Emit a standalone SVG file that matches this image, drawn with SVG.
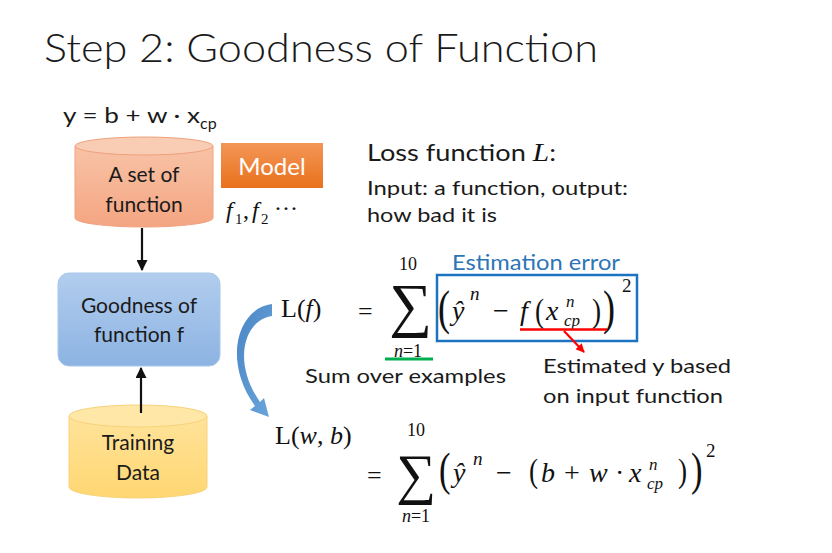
<svg xmlns="http://www.w3.org/2000/svg" width="832" height="553" viewBox="0 0 832 553">
<style>
.t{font-family:Lato,"Open Sans",sans-serif;fill:#1a1a1a}
.m{font-family:"Liberation Serif","DejaVu Serif",serif;fill:#111}
.i{font-style:italic}
.b{font-size:28px}
.s{font-size:19px}
.u{font-size:17px}
</style>
<defs>
<linearGradient id="gOr" x1="0" y1="0" x2="0" y2="1"><stop offset="0" stop-color="#F8C3A6"/><stop offset="1" stop-color="#F4A582"/></linearGradient>
<linearGradient id="gMo" x1="0" y1="0" x2="0" y2="1"><stop offset="0" stop-color="#F39657"/><stop offset="1" stop-color="#E9711C"/></linearGradient>
<linearGradient id="gBl" x1="0" y1="0" x2="0" y2="1"><stop offset="0" stop-color="#B2CDEE"/><stop offset="1" stop-color="#8CB3E2"/></linearGradient>
<linearGradient id="gYe" x1="0" y1="0" x2="0" y2="1"><stop offset="0" stop-color="#FFE39A"/><stop offset="1" stop-color="#FFD772"/></linearGradient>
<linearGradient id="gCv" x1="0" y1="0" x2="1" y2="1"><stop offset="0" stop-color="#4A86C4"/><stop offset="1" stop-color="#6AA5DD"/></linearGradient>
<marker id="ah" viewBox="0 0 10 10" refX="9" refY="5" markerWidth="5" markerHeight="5" orient="auto"><path d="M0,0 L10,5 L0,10 Z" fill="#111"/></marker>
<marker id="ar" viewBox="0 0 10 10" refX="9" refY="5" markerWidth="4" markerHeight="4" orient="auto"><path d="M0,0 L10,5 L0,10 Z" fill="#FF0000"/></marker>
</defs>
<rect width="832" height="553" fill="#fff"/>

<text class="t" x="44" y="62" font-size="40" font-weight="300" textLength="554" lengthAdjust="spacingAndGlyphs">Step 2: Goodness of Function</text>

<g id="model-eq">
<text class="t" x="63" y="123" font-size="22" textLength="137" lengthAdjust="spacingAndGlyphs">y = b + w · x</text>
<text class="t" x="200" y="129" font-size="16">cp</text>
</g>

<g id="set-of-function">
<path d="M75,146 L75,218 A69,9 0 0 0 213,218 L213,146 Z" fill="url(#gOr)" stroke="#F0A07C" stroke-width="1"/>
<ellipse cx="144" cy="146" rx="69" ry="9" fill="#F9CDB4" stroke="#F0A07C" stroke-width="1"/>
<text class="t" x="144" y="182" font-size="21" text-anchor="middle">A set of</text>
<text class="t" x="144" y="212" font-size="21" text-anchor="middle">function</text>
</g>

<g id="model">
<rect x="221" y="143" width="102" height="45" fill="url(#gMo)"/>
<text x="272" y="175" font-size="24" text-anchor="middle" font-family="Lato,sans-serif" fill="#fff">Model</text>
<text class="m i" x="226" y="218" font-size="24">f</text>
<text class="m" x="235" y="224" font-size="15">1</text>
<text class="m" x="243" y="218" font-size="24">,</text>
<text class="m i" x="252" y="218" font-size="24">f</text>
<text class="m" x="261" y="224" font-size="15">2</text>
<text class="m" x="274" y="216" font-size="24">···</text>
</g>

<g id="goodness">
<rect x="58" y="273" width="162" height="93" rx="11" fill="url(#gBl)" stroke="#A9C8EA" stroke-width="1"/>
<text class="t" x="139" y="313" font-size="21" text-anchor="middle">Goodness of</text>
<text class="t" x="139" y="342" font-size="21" text-anchor="middle">function f</text>
</g>

<g id="training-data">
<path d="M69,416 L69,487 A69,11 0 0 0 207,487 L207,416 Z" fill="url(#gYe)" stroke="#F8D27A" stroke-width="1"/>
<ellipse cx="138" cy="416" rx="69" ry="11" fill="#FFE7A8" stroke="#F8D27A" stroke-width="1"/>
<text class="t" x="138" y="450" font-size="21" text-anchor="middle">Training</text>
<text class="t" x="138" y="480" font-size="21" text-anchor="middle">Data</text>
</g>

<g id="loss-text">
<text class="t" x="367" y="161" font-size="24" textLength="189" lengthAdjust="spacingAndGlyphs">Loss function <tspan class="m i" font-size="26">L</tspan>:</text>
<text class="t" x="367" y="195" font-size="19" textLength="261" lengthAdjust="spacingAndGlyphs">Input: a function, output:</text>
<text class="t" x="367" y="222" font-size="19" textLength="130" lengthAdjust="spacingAndGlyphs">how bad it is</text>
</g>

<g id="formula1">
<text class="m" x="281" y="317" font-size="26">L(<tspan class="i">f</tspan>)</text>
<text class="m" x="358" y="320" font-size="26">=</text>
<text class="m" x="389" y="325" font-size="60">∑</text>
<text class="m" x="408" y="270" font-size="18" text-anchor="middle">10</text>
<text class="m" x="408" y="357" font-size="18" text-anchor="middle"><tspan class="i">n</tspan>=1</text>
<text class="t" x="452" y="270" font-size="21" style="fill:#2E75B6" textLength="168" lengthAdjust="spacingAndGlyphs">Estimation error</text>
<rect x="437" y="275" width="200" height="66" fill="none" stroke="#1C73C2" stroke-width="2.5"/>
<text class="m" transform="translate(438,324) scale(0.75,1)" font-size="48">(</text>
<text class="m i b" x="452" y="320">ŷ</text>
<text class="m i s" x="470" y="300">n</text>
<text class="m b" x="493" y="320">−</text>
<text class="m i b" x="520" y="320">f</text>
<text class="m" transform="translate(535,322) scale(0.8,1)" font-size="34">(</text>
<text class="m i b" x="546" y="320">x</text>
<text class="m i u" x="566" y="307">n</text>
<text class="m i u" x="564" y="326">cp</text>
<text class="m" transform="translate(592,322) scale(0.8,1)" font-size="34">)</text>
<text class="m" transform="translate(603,324) scale(0.75,1)" font-size="48">)</text>
<text class="m s" x="622" y="292">2</text>
</g>

<g id="formula2">
<text class="m" x="275" y="444" font-size="26">L(<tspan class="i">w</tspan>, <tspan class="i">b</tspan>)</text>
<text class="m" x="416" y="436" font-size="18" text-anchor="middle">10</text>
<text class="m" x="367" y="484" font-size="26">=</text>
<text class="m" x="396" y="493" font-size="56">∑</text>
<text class="m" x="416" y="522" font-size="18" text-anchor="middle"><tspan class="i">n</tspan>=1</text>
<text class="m" transform="translate(439,485) scale(0.75,1)" font-size="46">(</text>
<text class="m i b" x="453" y="482">ŷ</text>
<text class="m i s" x="473" y="465">n</text>
<text class="m b" x="496" y="482">−</text>
<text class="m" transform="translate(529,482) scale(0.8,1)" font-size="34">(</text>
<text class="m i b" x="541" y="482">b</text>
<text class="m b" x="564" y="482">+</text>
<text class="m i b" x="589" y="482">w</text>
<text class="m b" x="615" y="482">·</text>
<text class="m i b" x="629" y="482">x</text>
<text class="m i u" x="649" y="470">n</text>
<text class="m i u" x="647" y="489">cp</text>
<text class="m" transform="translate(678,482) scale(0.8,1)" font-size="34">)</text>
<text class="m" transform="translate(691,485) scale(0.75,1)" font-size="46">)</text>
<text class="m s" x="706" y="457">2</text>
</g>

<g id="notes">
<text class="t" x="305" y="383" font-size="20" textLength="201" lengthAdjust="spacingAndGlyphs">Sum over examples</text>
<text class="t" x="543" y="373" font-size="20" textLength="188" lengthAdjust="spacingAndGlyphs">Estimated y based</text>
<text class="t" x="543" y="403" font-size="20" textLength="180" lengthAdjust="spacingAndGlyphs">on input function</text>
</g>

<g id="connectors">
<line x1="142" y1="228" x2="142" y2="270" stroke="#111" stroke-width="2.2" marker-end="url(#ah)"/>
<line x1="141" y1="413" x2="141" y2="368" stroke="#111" stroke-width="2.2" marker-end="url(#ah)"/>
<line x1="385" y1="359" x2="433" y2="359" stroke="#00B050" stroke-width="3"/>
<line x1="520" y1="329.5" x2="607" y2="329.5" stroke="#FF0000" stroke-width="2.5"/>
<line x1="564" y1="331" x2="584" y2="352" stroke="#FF0000" stroke-width="2.2" marker-end="url(#ar)"/>
<path d="M272,304 C238,308 222,360 255,406 L250,410 L269,417 L264,398 L260,402 C232,362 244,320 272,316 Z" fill="url(#gCv)"/>
</g>
</svg>
